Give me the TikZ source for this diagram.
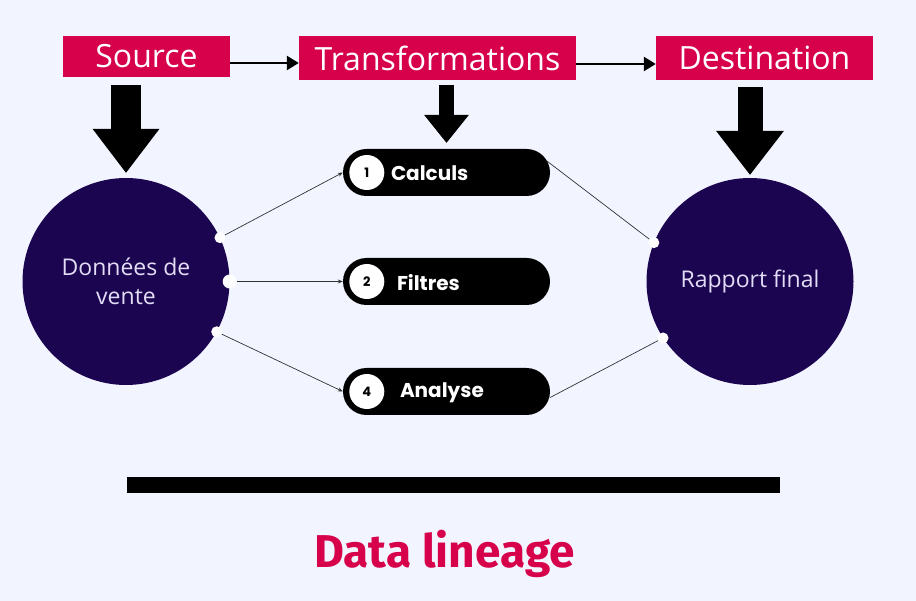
\documentclass[tikz,border=0pt]{standalone}
\usepackage{fontspec}
\setmainfont{Open Sans}
\newfontfamily\pillfont{Poppins}
\newfontfamily\titlefont{Fira Sans}
\usetikzlibrary{arrows.meta}
\definecolor{bgblue}{HTML}{F2F5FF}
\definecolor{crimson}{HTML}{D6004B}
\definecolor{navy}{HTML}{1C0550}
\definecolor{lavender}{HTML}{E2DDF6}

\begin{document}
\begin{tikzpicture}[x=1pt,y=-1pt]
\tikzstyle{every node}+=[inner sep=0pt]
\tikzstyle{stagebox}=[fill=crimson, text=white, minimum height=44pt, font=\fontsize{32}{36}\selectfont]
\tikzstyle{datacircle}=[circle, fill=navy, minimum size=207pt, text=lavender, align=center, font=\fontsize{23}{29}\selectfont]
\tikzstyle{pill}=[fill=black, rounded corners=23.5pt, minimum width=207pt, minimum height=47pt]
\tikzstyle{numdot}=[circle, fill=white, minimum size=35pt, font=\pillfont\bfseries\fontsize{13}{13}\selectfont]
\tikzstyle{pilltext}=[anchor=west, text=white, font=\pillfont\bfseries\fontsize{20}{20}\selectfont]
\tikzstyle{portdot}=[circle, fill=white, minimum size=11pt]
\tikzstyle{flowarrow}=[line width=2.5pt, -{Triangle[length=12pt,width=14pt]}]
\tikzstyle{thinline}=[line width=0.7pt, draw=black!80]
\tikzstyle{thinarrow}=[thinline, -{Stealth[length=5pt,width=4pt]}]
\useasboundingbox (0,0) rectangle (916,601);
\fill[bgblue] (0,0) rectangle (916,601);
% top row
\node[stagebox, minimum width=167pt, minimum height=41pt] (src) at (146.5,56.5) {Source};
\node[stagebox, minimum width=277pt] (trans) at (437.5,58) {\raisebox{-1pt}{Transformations}};
\node[stagebox, minimum width=217pt] (dest) at (764.5,58) {\raisebox{-3pt}{Destination}};
\draw[flowarrow] ([yshift=-6.5pt]src.east) -- ([yshift=-6.5pt]src.east -| trans.west);
\draw[flowarrow] ([yshift=-6pt]trans.east) -- ([yshift=-6pt]trans.east -| dest.west);
% circles
\node[datacircle] (ventes) at (126,281.5) {Données de\\vente};
\node[datacircle] (rapport) at (750,281.5) {Rapport final};
% steps
\node[pill] (calc) at (446.5,172.5) {};
\node[pill] (filt) at (446.5,281.5) {};
\node[pill] (ana) at (446.5,391.5) {};
\node[numdot] (n1) at ([xshift=24pt]calc.west) {1};
\node[numdot] (n2) at ([xshift=24pt]filt.west) {2};
\node[numdot] (n4) at ([xshift=24pt]ana.west) {4};
\node[pilltext] (calctext) at ([xshift=48pt,yshift=-1pt]calc.west) {Calculs};
\node[pilltext] (filttext) at ([xshift=54pt,yshift=-1pt]filt.west) {Filtres};
\node[pilltext] (anatext) at ([xshift=57pt,yshift=-1pt]ana.west) {Analyse};
% big arrows
\draw[line width=30pt, -{Triangle[length=44pt,width=67pt,line width=0pt]}, shorten <=8pt, shorten >=5pt] (ventes.north |- src.south) -- (ventes.north);
\draw[line width=15pt, -{Triangle[length=28pt,width=45pt,line width=0pt]}, shorten <=5pt, shorten >=6pt] (calc.north |- trans.south) -- (calc.north);
\draw[line width=25pt, -{Triangle[length=44pt,width=68pt,line width=0pt]}, shorten <=7pt, shorten >=3pt] (rapport.north |- dest.south) -- (rapport.north);
% links
\node[portdot] (p1) at (ventes.25) {};
\node[portdot, minimum size=14pt] (p2) at (ventes.0) {};
\node[portdot] (p3) at (ventes.-29) {};
\node[portdot] (p4) at (rapport.158) {};
\node[portdot] (p5) at (rapport.-147) {};
\draw[thinarrow] (p1) -- (calc.west);
\draw[thinarrow] (p2) -- (filt.west);
\draw[thinarrow] (p3) -- (ana.west);
\draw[thinline] ([xshift=-4pt,yshift=12pt]calc.east) -- (p4);
\draw[thinline] ([yshift=-6pt]ana.east) -- (p5);
% bottom
\fill (127,477) rectangle (780,493);
\node[anchor=base, text=crimson, font=\titlefont\bfseries\fontsize{46}{46}\selectfont] (title) at (444.5,567) {Data lineage};
\end{tikzpicture}
\end{document}
